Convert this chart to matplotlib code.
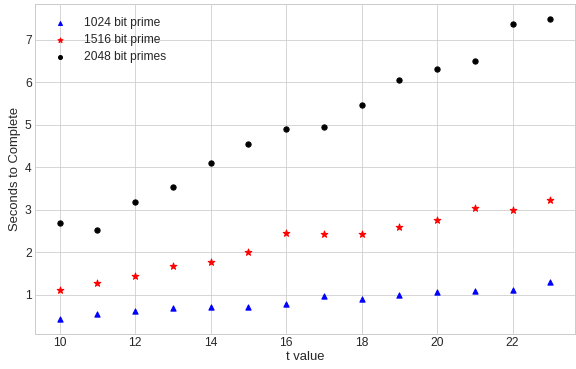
import matplotlib
matplotlib.use("Agg")
import matplotlib.pyplot as plt

plt.style.use("seaborn-v0_8-whitegrid")
plt.rcParams["font.family"] = ["Liberation Sans", "DejaVu Sans"]
plt.rcParams["xtick.labelsize"] = 12
plt.rcParams["ytick.labelsize"] = 12
plt.rcParams["axes.labelsize"] = 13
plt.rcParams["legend.fontsize"] = 12

t_values = [10, 11, 12, 13, 14, 15, 16, 17, 18, 19, 20, 21, 22, 23]
bits_1024 = [0.43, 0.55, 0.62, 0.68, 0.72, 0.72, 0.79, 0.98, 0.91, 1.00, 1.07, 1.09, 1.10, 1.31]
bits_1516 = [1.10, 1.28, 1.43, 1.68, 1.77, 2.01, 2.46, 2.44, 2.42, 2.60, 2.77, 3.04, 3.00, 3.22]
bits_2048 = [2.69, 2.53, 3.19, 3.53, 4.09, 4.56, 4.90, 4.96, 5.46, 6.05, 6.31, 6.50, 7.38, 7.49]

fig, ax = plt.subplots(figsize=(8, 5.125), dpi=72)
ax.scatter(t_values, bits_1024, marker="^", s=28, color="blue", label="1024 bit prime")
ax.scatter(t_values, bits_1516, marker="*", s=50, color="red", label="1516 bit prime")
ax.scatter(t_values, bits_2048, marker="o", s=28, color="black", label="2048 bit primes")
ax.set_xlabel("t value", labelpad=2)
ax.set_ylabel("Seconds to Complete", labelpad=4)
ax.legend(loc="upper left", frameon=False, borderaxespad=0.4, labelspacing=0.4,
          handletextpad=1.0, borderpad=0.7, markerscale=0.75)
fig.subplots_adjust(left=0.061, right=0.998, top=0.989, bottom=0.095)
fig.savefig("out.png", dpi=72, facecolor="white")
